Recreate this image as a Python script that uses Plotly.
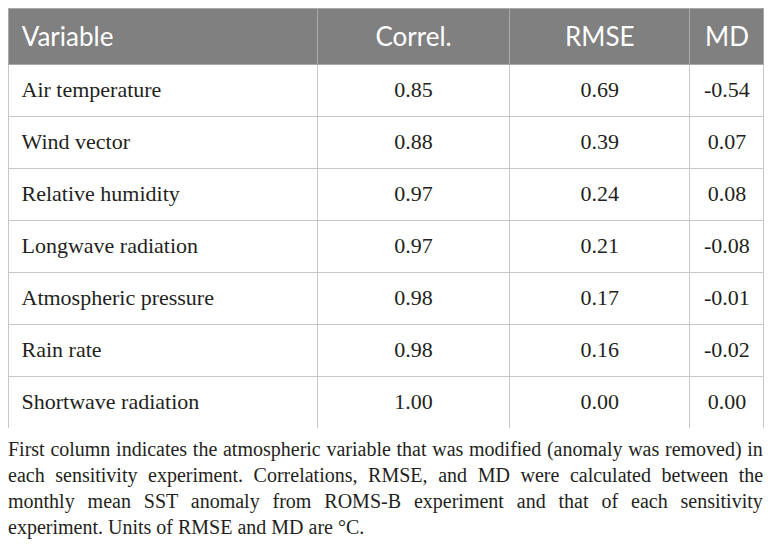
import plotly.graph_objects as go

variables = [
    "Air temperature",
    "Wind vector",
    "Relative humidity",
    "Longwave radiation",
    "Atmospheric pressure",
    "Rain rate",
    "Shortwave radiation",
]
correl = ["0.85", "0.88", "0.97", "0.97", "0.98", "0.98", "1.00"]
rmse = ["0.69", "0.39", "0.24", "0.21", "0.17", "0.16", "0.00"]
md = ["-0.54", "0.07", "0.08", "-0.08", "-0.01", "-0.02", "0.00"]
headers = ["Variable", "Correl.", "RMSE", "MD"]

caption_lines = [
    "First column indicates the atmospheric variable that was modified (anomaly was removed) in",
    "each sensitivity experiment. Correlations, RMSE, and MD were calculated between the",
    "monthly mean SST anomaly from ROMS-B experiment and that of each sensitivity",
    "experiment. Units of RMSE and MD are °C.",
]
# extra word spacing (px) to imitate the justified caption
caption_spacing = [0.7, 5.6, 7.9, 0]

W, H = 772, 548


def cell(txt, size, lead=False):
    # table text is top aligned: a 1px first line plus the base font's line
    # gap pushes the real text down to mid-row (the <br> also keeps the
    # table from wrapping the markup)
    if lead:
        txt = "\u00a0" + txt
    return (f"<span style='font-size:1px'>\u00a0</span><br>"
            f"<span style='font-size:{size}px'>{txt}</span>")


fig = go.Figure()

fig.add_trace(go.Table(
    domain=dict(x=[0, 756 / W], y=[1 - 420 / H, 1]),
    columnwidth=[309, 192, 180, 74],
    header=dict(
        values=[cell(h, 26, i == 0) for i, h in enumerate(headers)],
        fill_color="#808080",
        line=dict(color="#a8a8a8", width=1),
        align=["left", "center", "center", "center"],
        font=dict(family="Lato, Open Sans, sans-serif", size=22.4, color="white"),
        height=56,
    ),
    cells=dict(
        values=[
            [cell(v, 22, True) for v in variables],
            [cell(v, 22) for v in correl],
            [cell(v, 22) for v in rmse],
            [cell(v, 22) for v in md],
        ],
        fill_color="white",
        line=dict(color="#c8c8c8", width=1),
        align=["left", "center", "center", "center"],
        font=dict(family="Liberation Serif, serif", size=18.5, color="#231f20"),
        height=52,
    ),
))

caption = "<br>".join(
    f"<span style='word-spacing:{s}px'>{t}</span>" if s else t
    for t, s in zip(caption_lines, caption_spacing)
)
fig.add_annotation(
    text=caption,
    xref="paper", yref="paper",
    x=-2 / W, y=1 - 428 / H,
    xanchor="left", yanchor="top",
    align="left",
    showarrow=False,
    font=dict(family="Liberation Serif, serif", size=20, color="#231f20"),
)

fig.update_layout(
    width=W,
    height=H,
    margin=dict(l=0, r=0, t=0, b=0),
    paper_bgcolor="white",
    plot_bgcolor="white",
)

fig.write_html("out.html")
